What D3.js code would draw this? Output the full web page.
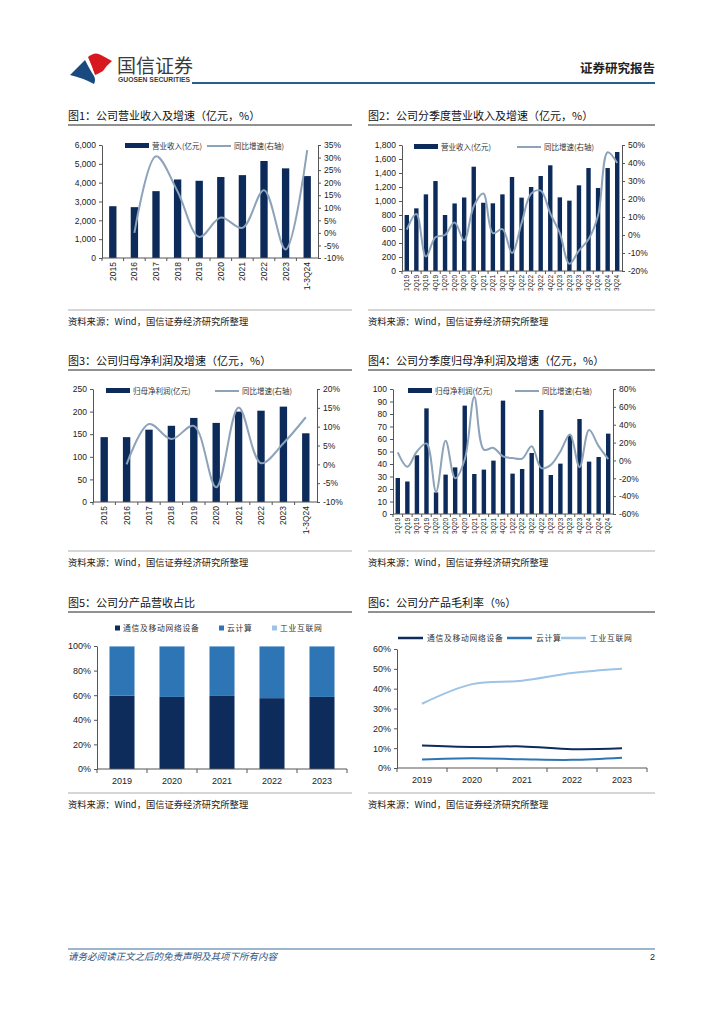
<!DOCTYPE html>
<html>
<head>
<meta charset="utf-8">
<script src="https://cdn.jsdelivr.net/npm/d3@7"></script>
<style>
  html, body { margin: 0; padding: 0; background: #fff; }
  svg { display: block; }
  text { font-family: "Liberation Sans", Arial, sans-serif; }
  .cjk { font-family: "Noto Sans CJK SC", sans-serif; }
</style>
</head>
<body>
<div id="page"></div>
<script>
// ---- data ----
const years = ["2015", "2016", "2017", "2018", "2019", "2020", "2021", "2022", "2023", "1-3Q24"];
const revenue = [2750, 2700, 3550, 4170, 4100, 4300, 4400, 5150, 4760, 4350];
const revenueYoY = [null, 0, 30.5, 16.5, -1.6, 6.1, 2, 17, -6.6, 33];

const quarters = ["1Q19", "2Q19", "3Q19", "4Q19", "1Q20", "2Q20", "3Q20", "4Q20",
  "1Q21", "2Q21", "3Q21", "4Q21", "1Q22", "2Q22", "3Q22", "4Q22",
  "1Q23", "2Q23", "3Q23", "4Q23", "1Q24", "2Q24", "3Q24"];
const qRevenue = [800, 895, 1095, 1285, 800, 965, 1050, 1490, 975, 967, 1095, 1343,
  1048, 1200, 1357, 1510, 1052, 1005, 1224, 1471, 1186, 1471, 1700];
const qRevenueYoY = [3, 11.7, -12, -1.3, 0, 7, -3, 16, 23, 1, 3.3, -10,
  6.5, 23, 24.6, 12, 1, -16, -8.7, -2.4, 11, 46, 40];

const netProfit = [143.5, 143.5, 160, 168.6, 186, 175, 200, 202, 211, 152];
const netProfitYoY = [null, 0, 10.7, 6.7, 10.2, -6.1, 15.1, 0.3, 5.6, 12.5];

const qNetProfit = [28.8, 26, 47, 84.5, 17.3, 31.5, 37.3, 86.7, 32, 35.5, 42.7, 90.7,
  32.3, 36, 48.8, 83.2, 31.2, 40.3, 63, 76, 41.9, 45.6, 64.3];
const qNetProfitYoY = [9, -7, 10, 19, -35, 22, -20, 1, 71, 12, 14, 4.5,
  2.6, 2, 16, -8.6, -5, 10, 29, -7.5, 34, 16, 1.5];

const productYears = ["2019", "2020", "2021", "2022", "2023"];
const shareTelecom = [59.7, 58.6, 59.4, 57.6, 58.6];
const shareCloud = [40.0, 41.1, 40.3, 42.1, 41.1];
const shareIndustrial = [0.3, 0.3, 0.3, 0.3, 0.3];

const marginTelecom = [11.3, 10.6, 10.9, 9.5, 9.9];
const marginCloud = [4.3, 4.9, 4.4, 4.1, 5.2];
const marginIndustrial = [32.4, 42.3, 44, 47.9, 50];

const productNames = ["通信及移动网络设备", "云计算", "工业互联网"];
const productColors = ["#0d2c5c", "#2e75b6", "#9dc3e6"];

// ---- page ----
const W = 724, H = 1024;
const barColor = "#0d2b5a";
const lineColor = "#8da3b9";
const axisColor = "#555";

const svg = d3.select("#page").append("svg")
  .attr("width", W)
  .attr("height", H);

// header
svg.append("path")
  .attr("d", "M88,57 Q95,51 101,55 L112,61 Q106,66 103,71 Q98,74 95,75 Q92,66 88,57 Z")
  .attr("fill", "#d7191f");
svg.append("path")
  .attr("d", "M70,75 L85,60 Q90,70 94,76 Q96,80 94,84 Q83,78 70,75 Z")
  .attr("fill", "#184a80");
svg.append("text").attr("class", "cjk")
  .attr("x", 117).attr("y", 73)
  .style("font-size", "19px").style("fill", "#3a3a3a")
  .text("国信证券");
svg.append("text")
  .attr("x", 118).attr("y", 82)
  .style("font-size", "6.8px").style("font-weight", "bold").style("fill", "#3a3a3a")
  .text("GUOSEN SECURITIES");
svg.append("text").attr("class", "cjk")
  .attr("x", 655).attr("y", 73)
  .attr("text-anchor", "end")
  .style("font-size", "12.5px").style("font-weight", "bold").style("fill", "#222")
  .text("证券研究报告");
svg.append("line")
  .attr("x1", 192).attr("x2", 655).attr("y1", 83).attr("y2", 83)
  .attr("stroke", "#2b5d8f").attr("stroke-width", 2);

// footer
svg.append("line")
  .attr("x1", 68).attr("x2", 655).attr("y1", 949).attr("y2", 949)
  .attr("stroke", "#3d6e9e").attr("stroke-width", 1);
svg.append("text").attr("class", "cjk")
  .attr("x", 68).attr("y", 960)
  .style("font-size", "9.5px").style("font-style", "italic").style("fill", "#2f5585")
  .text("请务必阅读正文之后的免责声明及其项下所有内容");
svg.append("text")
  .attr("x", 655).attr("y", 960).attr("text-anchor", "end")
  .style("font-size", "9px").style("fill", "#222")
  .text("2");

// section titles and source notes
function section(x0, x1, titleY, sourceY, title) {
  svg.append("text").attr("class", "cjk")
    .attr("x", x0).attr("y", titleY + 4)
    .style("font-size", "11px").style("fill", "#111")
    .text(title);
  svg.append("line")
    .attr("x1", x0).attr("x2", x1).attr("y1", titleY + 9).attr("y2", titleY + 9)
    .attr("stroke", "#222").attr("stroke-width", 1);
  svg.append("line")
    .attr("x1", x0).attr("x2", x1).attr("y1", sourceY - 12).attr("y2", sourceY - 12)
    .attr("stroke", "#c8c8c8").attr("stroke-width", 1.5);
  svg.append("text").attr("class", "cjk")
    .attr("x", x0).attr("y", sourceY + 3)
    .style("font-size", "9.3px").style("fill", "#222")
    .text("资料来源：Wind，国信证券经济研究所整理");
}

section(68, 352, 116, 322, "图1：公司营业收入及增速（亿元，%）");
section(368, 655, 116, 322, "图2：公司分季度营业收入及增速（亿元，%）");
section(68, 352, 361, 563, "图3：公司归母净利润及增速（亿元，%）");
section(368, 655, 361, 563, "图4：公司分季度归母净利润及增速（亿元，%）");
section(68, 352, 603, 805, "图5：公司分产品营收占比");
section(368, 655, 603, 805, "图6：公司分产品毛利率（%）");

function styleAxis(g, size) {
  g.select(".domain").attr("stroke", axisColor);
  g.selectAll(".tick line").attr("stroke", axisColor);
  g.selectAll(".tick text")
    .style("font-size", size)
    .style("fill", "#222")
    .style("font-family", "'Liberation Sans', Arial, sans-serif");
}

// bar + growth line chart
function comboChart(o) {
  const g = svg.append("g");
  const x = d3.scaleBand().domain(o.cats).range([o.x0, o.x1]);
  const yL = d3.scaleLinear().domain(o.leftDomain).range([o.yBot, o.yTop]);
  const yR = d3.scaleLinear().domain(o.rightDomain).range([o.yBot, o.yTop]);
  const bw = x.bandwidth() * o.barRatio;

  g.selectAll(".bar")
    .data(o.bars)
    .enter()
    .append("rect")
    .attr("x", (d, i) => x(o.cats[i]) + (x.bandwidth() - bw) / 2)
    .attr("y", d => yL(d))
    .attr("width", bw)
    .attr("height", d => o.yBot - yL(d))
    .attr("fill", barColor);

  const line = d3.line()
    .defined(d => d != null)
    .x((d, i) => x(o.cats[i]) + x.bandwidth() / 2)
    .y(d => yR(d))
    .curve(d3.curveCatmullRom.alpha(0.5));

  g.append("path")
    .datum(o.growth)
    .attr("d", line)
    .attr("fill", "none")
    .attr("stroke", lineColor)
    .attr("stroke-width", 2);

  const left = g.append("g")
    .attr("transform", `translate(${o.x0},0)`)
    .call(d3.axisLeft(yL).tickValues(o.leftTicks).tickFormat(o.leftFmt)
      .tickSize(3).tickSizeOuter(0).tickPadding(3));
  styleAxis(left, o.tickSize);

  const right = g.append("g")
    .attr("transform", `translate(${o.x1},0)`)
    .call(d3.axisRight(yR).tickValues(o.rightTicks).tickFormat(d => d + "%")
      .tickSize(3).tickSizeOuter(0).tickPadding(3));
  styleAxis(right, o.tickSize);

  // category axis
  g.append("line")
    .attr("x1", o.x0).attr("x2", o.x1).attr("y1", o.yBot).attr("y2", o.yBot)
    .attr("stroke", axisColor);
  g.selectAll(".ctick")
    .data(o.cats)
    .enter()
    .append("line")
    .attr("x1", d => x(d)).attr("x2", d => x(d))
    .attr("y1", o.yBot).attr("y2", o.yBot + 3)
    .attr("stroke", axisColor);
  g.selectAll(".clabel")
    .data(o.cats)
    .enter()
    .append("text")
    .attr("transform", d => `translate(${x(d) + x.bandwidth() / 2},${o.yBot + 4}) rotate(-90)`)
    .attr("text-anchor", "end")
    .attr("dy", "0.35em")
    .style("font-size", o.catSize)
    .style("fill", "#222")
    .text(d => d);

  // legend
  const ly = o.legend.y;
  g.append("rect")
    .attr("x", o.legend.bx).attr("y", ly - 3)
    .attr("width", 24).attr("height", 5)
    .attr("fill", barColor);
  g.append("text").attr("class", "cjk")
    .attr("x", o.legend.bx + 27).attr("y", ly).attr("dy", "0.35em")
    .style("font-size", "7.5px").style("fill", "#333")
    .text(o.legend.barLabel);
  g.append("line")
    .attr("x1", o.legend.lx).attr("x2", o.legend.lx + 24)
    .attr("y1", ly).attr("y2", ly)
    .attr("stroke", lineColor).attr("stroke-width", 2);
  g.append("text").attr("class", "cjk")
    .attr("x", o.legend.lx + 27).attr("y", ly).attr("dy", "0.35em")
    .style("font-size", "7.5px").style("fill", "#333")
    .text("同比增速(右轴)");
}

comboChart({
  cats: years, bars: revenue, growth: revenueYoY,
  x0: 102, x1: 318, yTop: 145, yBot: 258, barRatio: 0.34,
  leftDomain: [0, 6000], leftTicks: d3.range(0, 6001, 1000), leftFmt: d3.format(","),
  rightDomain: [-10, 35], rightTicks: d3.range(-10, 36, 5),
  tickSize: "8.5px", catSize: "8.5px",
  legend: { y: 146, bx: 125, lx: 207, barLabel: "营业收入(亿元)" }
});

comboChart({
  cats: quarters, bars: qRevenue, growth: qRevenueYoY,
  x0: 402, x1: 622, yTop: 145, yBot: 271, barRatio: 0.46,
  leftDomain: [0, 1800], leftTicks: d3.range(0, 1801, 200), leftFmt: d3.format(","),
  rightDomain: [-20, 50], rightTicks: d3.range(-20, 51, 10),
  tickSize: "8.5px", catSize: "6.5px",
  legend: { y: 147, bx: 414, lx: 517, barLabel: "营业收入(亿元)" }
});

comboChart({
  cats: years, bars: netProfit, growth: netProfitYoY,
  x0: 93, x1: 317, yTop: 389, yBot: 502, barRatio: 0.33,
  leftDomain: [0, 250], leftTicks: d3.range(0, 251, 50), leftFmt: d3.format("d"),
  rightDomain: [-10, 20], rightTicks: d3.range(-10, 21, 5),
  tickSize: "8.5px", catSize: "8.5px",
  legend: { y: 391, bx: 106, lx: 215, barLabel: "归母净利润(亿元)" }
});

comboChart({
  cats: quarters, bars: qNetProfit, growth: qNetProfitYoY,
  x0: 393, x1: 613, yTop: 389, yBot: 514, barRatio: 0.46,
  leftDomain: [0, 100], leftTicks: d3.range(0, 101, 10), leftFmt: d3.format("d"),
  rightDomain: [-60, 80], rightTicks: d3.range(-60, 81, 20),
  tickSize: "8.5px", catSize: "6.5px",
  legend: { y: 391, bx: 408, lx: 515, barLabel: "归母净利润(亿元)" }
});

// product charts shared axes
function productAxes(g, x, y, x0, x1, yBot) {
  const left = g.append("g")
    .attr("transform", `translate(${x0},0)`)
    .call(d3.axisLeft(y).tickValues(d3.range(0, y.domain()[1] + 1, y.domain()[1] === 100 ? 20 : 10))
      .tickFormat(d => d + "%").tickSize(3).tickSizeOuter(0).tickPadding(3));
  styleAxis(left, "9px");
  g.append("line")
    .attr("x1", x0).attr("x2", x1).attr("y1", yBot).attr("y2", yBot)
    .attr("stroke", axisColor);
  g.selectAll(".ctick")
    .data(productYears.concat(["end"]))
    .enter()
    .append("line")
    .attr("x1", (d, i) => x0 + i * x.step()).attr("x2", (d, i) => x0 + i * x.step())
    .attr("y1", yBot).attr("y2", yBot + 4)
    .attr("stroke", axisColor);
  g.selectAll(".clabel")
    .data(productYears)
    .enter()
    .append("text")
    .attr("x", d => x(d) + x.bandwidth() / 2)
    .attr("y", yBot + 12)
    .attr("dy", "0.35em")
    .attr("text-anchor", "middle")
    .style("font-size", "9px")
    .style("fill", "#222")
    .text(d => d);
}

// chart 5: stacked share
(function () {
  const g = svg.append("g");
  const x0 = 97, x1 = 347, yTop = 646, yBot = 769;
  const x = d3.scaleBand().domain(productYears).range([x0, x1]);
  const y = d3.scaleLinear().domain([0, 100]).range([yBot, yTop]);
  const rows = productYears.map((yr, i) => ({
    year: yr, a: shareTelecom[i], b: shareCloud[i], c: shareIndustrial[i]
  }));
  const stack = d3.stack().keys(["a", "b", "c"])(rows);
  const bw = x.bandwidth() * 0.5;

  g.selectAll(".layer")
    .data(stack)
    .enter()
    .append("g")
    .attr("fill", (d, i) => productColors[i])
    .selectAll("rect")
    .data(d => d)
    .enter()
    .append("rect")
    .attr("x", d => x(d.data.year) + (x.bandwidth() - bw) / 2)
    .attr("y", d => y(d[1]))
    .attr("width", bw)
    .attr("height", d => y(d[0]) - y(d[1]));

  productAxes(g, x, y, x0, x1, yBot);

  const lx = [115, 219, 272];
  productNames.forEach((n, i) => {
    g.append("rect")
      .attr("x", lx[i]).attr("y", 625.5)
      .attr("width", 5).attr("height", 5)
      .attr("fill", productColors[i]);
    g.append("text").attr("class", "cjk")
      .attr("x", lx[i] + 8).attr("y", 628).attr("dy", "0.35em")
      .style("font-size", "7.8px").style("letter-spacing", "0.7px").style("fill", "#333")
      .text(n);
  });
})();

// chart 6: gross margin lines
(function () {
  const g = svg.append("g");
  const x0 = 397, x1 = 647, yTop = 649, yBot = 768;
  const x = d3.scaleBand().domain(productYears).range([x0, x1]);
  const y = d3.scaleLinear().domain([0, 60]).range([yBot, yTop]);
  const series = [marginTelecom, marginCloud, marginIndustrial];

  productAxes(g, x, y, x0, x1, yBot);

  const line = d3.line()
    .x((d, i) => x(productYears[i]) + x.bandwidth() / 2)
    .y(d => y(d))
    .curve(d3.curveCatmullRom.alpha(0.5));

  g.selectAll(".series")
    .data(series)
    .enter()
    .append("path")
    .attr("d", line)
    .attr("fill", "none")
    .attr("stroke", (d, i) => productColors[i])
    .attr("stroke-width", 2);

  const lx = [398, 507, 561];
  productNames.forEach((n, i) => {
    g.append("line")
      .attr("x1", lx[i]).attr("x2", lx[i] + 25)
      .attr("y1", 638).attr("y2", 638)
      .attr("stroke", productColors[i]).attr("stroke-width", 2.5);
    g.append("text").attr("class", "cjk")
      .attr("x", lx[i] + 29).attr("y", 638).attr("dy", "0.35em")
      .style("font-size", "7.8px").style("letter-spacing", "0.7px").style("fill", "#333")
      .text(n);
  });
})();
</script>
</body>
</html>
